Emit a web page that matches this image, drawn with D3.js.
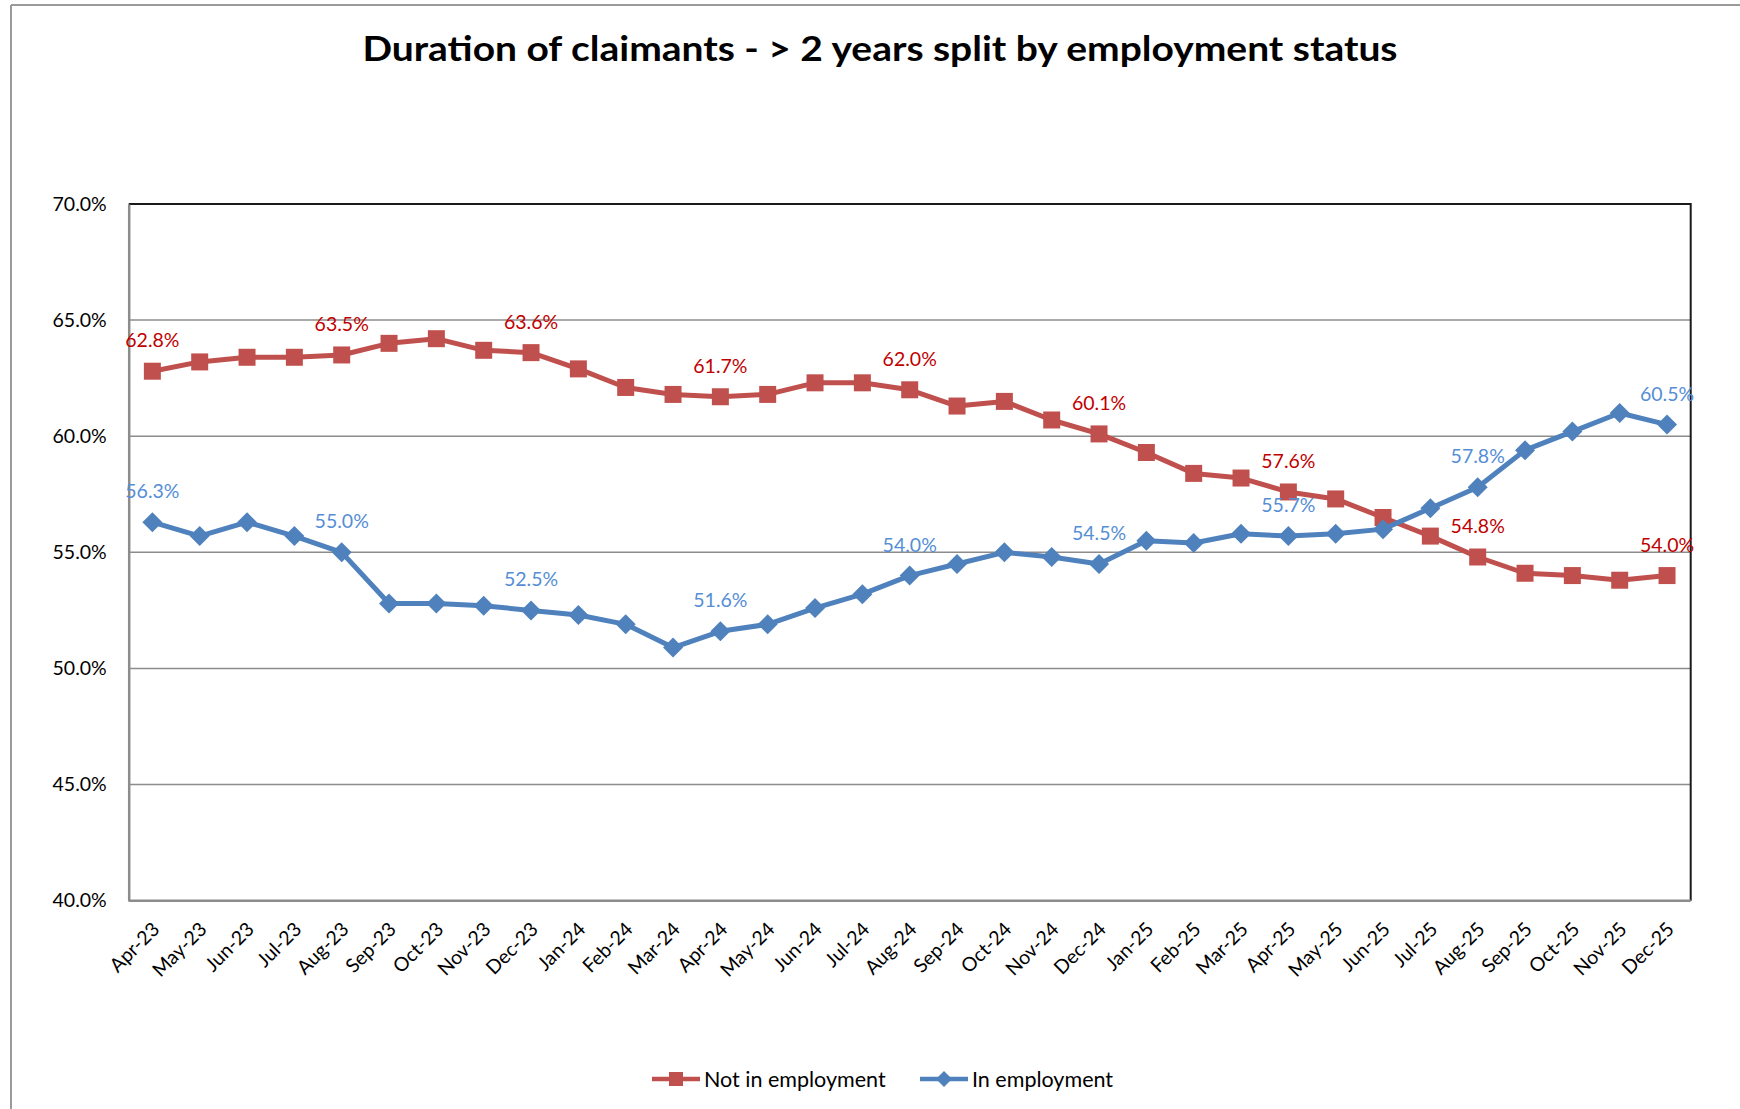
<!DOCTYPE html>
<html>
<head>
<meta charset="utf-8">
<script src="https://cdn.jsdelivr.net/npm/d3@7"></script>
<style>
  html, body { margin: 0; padding: 0; background: #ffffff; }
  svg { display: block; }
  text { font-family: Lato, "Open Sans", "Noto Sans", sans-serif; }
</style>
</head>
<body>
<svg id="chart" width="1740" height="1109"></svg>
<script>
const months = ["Apr-23","May-23","Jun-23","Jul-23","Aug-23","Sep-23","Oct-23","Nov-23","Dec-23",
  "Jan-24","Feb-24","Mar-24","Apr-24","May-24","Jun-24","Jul-24","Aug-24","Sep-24","Oct-24","Nov-24","Dec-24",
  "Jan-25","Feb-25","Mar-25","Apr-25","May-25","Jun-25","Jul-25","Aug-25","Sep-25","Oct-25","Nov-25","Dec-25"];

const notInEmployment = [62.8,63.2,63.4,63.4,63.5,64.0,64.2,63.7,63.6,
  62.9,62.1,61.8,61.7,61.8,62.3,62.3,62.0,61.3,61.5,60.7,60.1,
  59.3,58.4,58.2,57.6,57.3,56.5,55.7,54.8,54.1,54.0,53.8,54.0];

const inEmployment = [56.3,55.7,56.3,55.7,55.0,52.8,52.8,52.7,52.5,
  52.3,51.9,50.9,51.6,51.9,52.6,53.2,54.0,54.5,55.0,54.8,54.5,
  55.5,55.4,55.8,55.7,55.8,56.0,56.9,57.8,59.4,60.2,61.0,60.5];

const yTicks = [40,45,50,55,60,65,70];
const seriesNames = ["Not in employment","In employment"];
const labelEvery = 4;

const title = "Duration of claimants - > 2 years split by employment status";

const svg = d3.select("#chart");
const W = 1740, H = 1109;
const plot = {left: 128.7, right: 1690.7, top: 204, bottom: 900.7};
const fontStack = "Lato, 'Open Sans', sans-serif";

// chart area border (top and left visible)
svg.append("line").attr("x1", 11).attr("x2", W).attr("y1", 5).attr("y2", 5)
  .attr("stroke", "#9a9a9a").attr("stroke-width", 2);
svg.append("line").attr("x1", 11).attr("x2", 11).attr("y1", 5).attr("y2", H)
  .attr("stroke", "#9a9a9a").attr("stroke-width", 2);

svg.append("text").attr("x", 880).attr("y", 61)
  .attr("text-anchor", "middle").attr("font-weight", "bold")
  .attr("font-size", 35).attr("fill", "#000")
  .attr("textLength", 1035).attr("lengthAdjust", "spacingAndGlyphs")
  .text(title);

const x = d3.scalePoint().domain(months).range([plot.left, plot.right]).padding(0.5);
const y = d3.scaleLinear().domain([40,70]).range([plot.bottom, plot.top]);

// gridlines
svg.append("g").selectAll("line").data(yTicks.filter(d => d > 40 && d < 70)).join("line")
  .attr("x1", plot.left).attr("x2", plot.right)
  .attr("y1", d => y(d)).attr("y2", d => y(d))
  .attr("stroke", "#8c8c8c").attr("stroke-width", 1.5);

// plot border: top and right dark
svg.append("path")
  .attr("d", `M${plot.left},${plot.top}H${plot.right}V${plot.bottom}`)
  .attr("fill", "none").attr("stroke", "#1a1a1a").attr("stroke-width", 2);

// y axis
const yAxis = d3.axisLeft(y).tickValues(yTicks).tickSize(0).tickPadding(22)
  .tickFormat(d => d.toFixed(1) + "%");
const gy = svg.append("g").attr("transform", `translate(${plot.left},0)`).call(yAxis);
gy.select(".domain").attr("stroke", "#8c8c8c").attr("stroke-width", 2.5);
gy.selectAll("text").attr("font-size", 19.5).attr("fill", "#000")
  .style("font-family", fontStack);

// x axis
const xAxis = d3.axisBottom(x).tickSize(0).tickPadding(0);
const gx = svg.append("g").attr("transform", `translate(0,${plot.bottom})`).call(xAxis);
gx.select(".domain").attr("stroke", "#8c8c8c").attr("stroke-width", 2.5)
  .attr("d", `M${plot.left},0H${plot.right}`);
gx.selectAll("text")
  .attr("font-size", 19.5).attr("fill", "#000")
  .style("font-family", fontStack)
  .attr("text-anchor", "end")
  .attr("dy", "0.35em")
  .attr("transform", "translate(3,25) rotate(-45)")
  .attr("y", 0);

const series = [
  {name: seriesNames[0], values: notInEmployment, color: "#C0504D", label: "#C00000", shape: "square"},
  {name: seriesNames[1], values: inEmployment, color: "#4F81BD", label: "#558ED5", shape: "diamond"}
];

const line = d3.line().x((d,i) => x(months[i])).y(d => y(d));

series.forEach(s => {
  const g = svg.append("g");
  g.append("path").datum(s.values).attr("d", line)
    .attr("fill", "none").attr("stroke", s.color).attr("stroke-width", 5)
    .attr("stroke-linejoin", "round");
  g.selectAll("path.m").data(s.values).join("path").attr("class", "m")
    .attr("transform", (d,i) => `translate(${x(months[i])},${y(d)})`)
    .attr("d", s.shape === "square" ? "M-8.5,-8.5H8.5V8.5H-8.5Z" : "M0,-10L10,0L0,10L-10,0Z")
    .attr("fill", s.color);
});

series.forEach(s => {
  svg.append("g").selectAll("text")
    .data(s.values.map((v,i) => ({v, i})).filter(d => d.i % labelEvery === 0))
    .join("text")
    .attr("x", d => x(months[d.i]))
    .attr("y", d => y(d.v) - 24)
    .attr("text-anchor", "middle")
    .attr("font-size", 19.5)
    .attr("fill", s.label)
    .text(d => d.v.toFixed(1) + "%");
});

// legend
const legendY = 1079;
const legendItems = [
  {s: series[0], x0: 652},
  {s: series[1], x0: 920}
];
legendItems.forEach(({s, x0}) => {
  const g = svg.append("g");
  g.append("line").attr("x1", x0).attr("x2", x0 + 48).attr("y1", legendY).attr("y2", legendY)
    .attr("stroke", s.color).attr("stroke-width", 4.5);
  g.append("path").attr("transform", `translate(${x0 + 24},${legendY})`)
    .attr("d", s.shape === "square" ? "M-7,-7H7V7H-7Z" : "M0,-8L8,0L0,8L-8,0Z")
    .attr("fill", s.color);
  g.append("text").attr("x", x0 + 52).attr("y", legendY).attr("dy", "0.35em")
    .attr("font-size", 21.5).attr("fill", "#000").text(s.name);
});
</script>
</body>
</html>
